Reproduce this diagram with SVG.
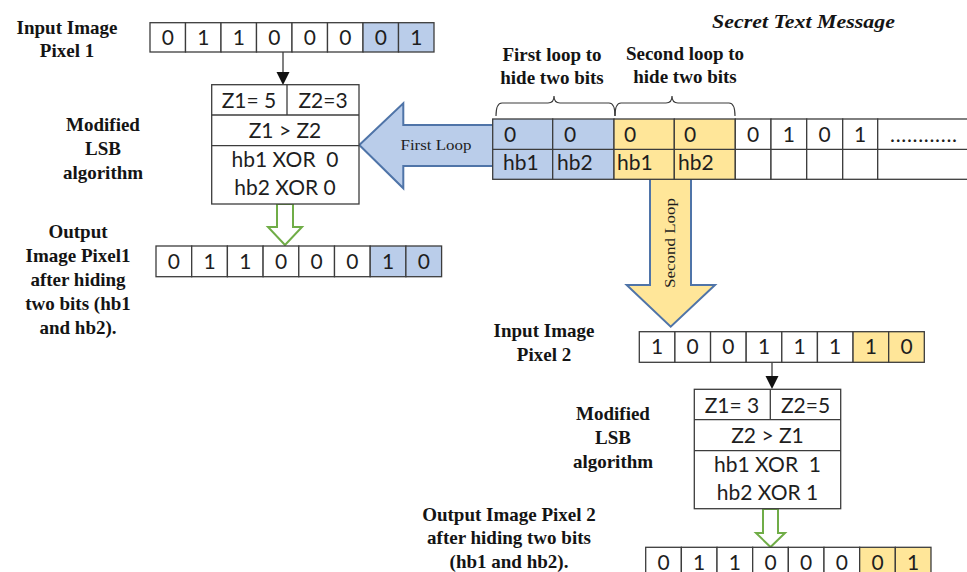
<svg xmlns="http://www.w3.org/2000/svg" width="967" height="572" viewBox="0 0 967 572">
  <style>
    .cell { fill: #ffffff; stroke: #3c3c3c; stroke-width: 1.3; }
    .blue { fill: #bacdea; }
    .gold { fill: #ffe699; }
    .line { stroke: #3c3c3c; stroke-width: 1.3; fill: none; }
    .d { font-family: Lato, "Open Sans", sans-serif; font-size: 21px; fill: #1e1e1e; text-anchor: middle; }
    .dl { font-family: Lato, "Open Sans", sans-serif; font-size: 21px; fill: #1e1e1e; }
    .lbl { font-family: "Liberation Serif", "Times New Roman", serif; font-weight: bold; font-size: 19px; fill: #141414; text-anchor: middle; }
    .arr { font-family: "Liberation Serif", "Times New Roman", serif; font-size: 15px; fill: #1e1e1e; text-anchor: middle; }
    .hollow { fill: #ffffff; stroke: #70ad47; stroke-width: 2; }
    .brace { fill: none; stroke: #3c3c3c; stroke-width: 1.2; }
  </style>

  <!-- Labels -->
  <g id="labels">
    <text class="lbl"><tspan x="67" y="34">Input Image</tspan><tspan x="67" y="57">Pixel 1</tspan></text>
    <text class="lbl"><tspan x="103" y="131">Modified</tspan><tspan x="103" y="155">LSB</tspan><tspan x="103" y="179">algorithm</tspan></text>
    <text class="lbl"><tspan x="78" y="238">Output</tspan><tspan x="78" y="262">Image Pixel1</tspan><tspan x="78" y="286">after hiding</tspan><tspan x="78" y="310">two bits (hb1</tspan><tspan x="78" y="334">and hb2).</tspan></text>
    <text class="lbl" x="712" y="28" style="font-style:italic;text-anchor:start" textLength="183" lengthAdjust="spacingAndGlyphs">Secret Text Message</text>
    <text class="lbl"><tspan x="552" y="61">First loop to</tspan><tspan x="552" y="84">hide two bits</tspan></text>
    <text class="lbl"><tspan x="685" y="60">Second loop to</tspan><tspan x="685" y="83">hide two bits</tspan></text>
    <text class="lbl"><tspan x="544" y="337">Input Image</tspan><tspan x="544" y="361">Pixel 2</tspan></text>
    <text class="lbl"><tspan x="613" y="420">Modified</tspan><tspan x="613" y="444">LSB</tspan><tspan x="613" y="468">algorithm</tspan></text>
    <text class="lbl"><tspan x="509" y="521">Output Image Pixel 2</tspan><tspan x="509" y="544">after hiding two bits</tspan><tspan x="509" y="568">(hb1 and hb2).</tspan></text>
  </g>

  <!-- Connectors: plain arrows, hollow arrows and loop arrows -->
  <g id="connectors">
    <line class="line" x1="283" y1="52" x2="283" y2="73"/>
    <polygon points="276.5,72 289.5,72 283,85" fill="#111"/>
    <line class="line" x1="772" y1="362" x2="772" y2="377"/>
    <polygon points="765.5,376 778.5,376 772,389" fill="#111"/>

    <polygon class="hollow" points="277,204 293,204 293,227 302,227 285,245 268,227 277,227"/>
    <polygon class="hollow" points="763,509 778,509 778,533 785,533 770.5,547 756,533 763,533"/>

    <g id="first-loop">
      <polygon points="359.3,145 403.3,103.3 403.3,125 500,125 500,166 403.3,166 403.3,188.3" fill="#bacdea" stroke="#4f74a8" stroke-width="2" stroke-linejoin="miter"/>
      <text class="arr" x="436" y="150" textLength="71" lengthAdjust="spacingAndGlyphs">First Loop</text>
    </g>
    <g id="second-loop">
      <polygon points="650,178 691,178 691,285 715,285 670.7,326.7 626.7,285 650,285" fill="#ffe699" stroke="#4f74a8" stroke-width="2"/>
      <text class="arr" transform="translate(675,243) rotate(-90)" x="0" y="0" textLength="90" lengthAdjust="spacingAndGlyphs">Second Loop</text>
    </g>
  </g>

  <!-- Input image pixel 1 -->
  <g id="input-pixel-1">
    <rect class="cell" x="150" y="22.7" width="35.5" height="29.3"/>
    <rect class="cell" x="185.5" y="22.7" width="35.5" height="29.3"/>
    <rect class="cell" x="221" y="22.7" width="35.5" height="29.3"/>
    <rect class="cell" x="256.5" y="22.7" width="35.5" height="29.3"/>
    <rect class="cell" x="292" y="22.7" width="35.5" height="29.3"/>
    <rect class="cell" x="327.5" y="22.7" width="35.5" height="29.3"/>
    <rect class="cell blue" x="363" y="22.7" width="35.5" height="29.3"/>
    <rect class="cell blue" x="398.5" y="22.7" width="35.5" height="29.3"/>
    <text class="d" y="45"><tspan x="167.8">0</tspan><tspan x="203.3">1</tspan><tspan x="238.8">1</tspan><tspan x="274.3">0</tspan><tspan x="309.8">0</tspan><tspan x="345.3">0</tspan><tspan x="380.8">0</tspan><tspan x="416.3">1</tspan></text>
  </g>

  <!-- Modified LSB step for pixel 1 -->
  <g id="lsb-1">
    <rect class="cell" x="211.7" y="84.7" width="147.3" height="119.3"/>
    <line class="line" x1="211.7" y1="115" x2="359" y2="115"/>
    <line class="line" x1="211.7" y1="145.7" x2="359" y2="145.7"/>
    <line class="line" x1="287" y1="84.7" x2="287" y2="115"/>
    <text class="d" x="249" y="108">Z1= 5</text>
    <text class="d" x="323" y="108">Z2=3</text>
    <text class="d" x="285" y="138">Z1 &gt; Z2</text>
    <text class="d" x="285" y="167" xml:space="preserve">hb1 XOR  0</text>
    <text class="d" x="285" y="195">hb2 XOR 0</text>
  </g>

  <!-- Output image pixel 1 -->
  <g id="output-pixel-1">
    <rect class="cell" x="156" y="246" width="35.7" height="30.7"/>
    <rect class="cell" x="191.7" y="246" width="35.7" height="30.7"/>
    <rect class="cell" x="227.4" y="246" width="35.7" height="30.7"/>
    <rect class="cell" x="263.1" y="246" width="35.7" height="30.7"/>
    <rect class="cell" x="298.8" y="246" width="35.7" height="30.7"/>
    <rect class="cell" x="334.5" y="246" width="35.7" height="30.7"/>
    <rect class="cell blue" x="370.2" y="246" width="35.7" height="30.7"/>
    <rect class="cell blue" x="405.9" y="246" width="35.7" height="30.7"/>
    <text class="d" y="268.5"><tspan x="173.9">0</tspan><tspan x="209.6">1</tspan><tspan x="245.3">1</tspan><tspan x="281">0</tspan><tspan x="316.7">0</tspan><tspan x="352.4">0</tspan><tspan x="388.1">1</tspan><tspan x="423.8">0</tspan></text>
  </g>

  <!-- Secret text message bits -->
  <g id="secret-message">
    <path class="brace" d="M496,116 Q496,103 502,103 L548,103 Q554,103 554,96 Q554,103 560,103 L609,103 Q615,103 615,116"/>
    <path class="brace" d="M615,116 Q615,103 621,103 L666,103 Q672,103 672,96 Q672,103 678,103 L729,103 Q735,103 735,116"/>
    <rect class="cell blue" x="492.7" y="119" width="60" height="60.3"/>
    <rect class="cell blue" x="552.7" y="119" width="61.3" height="60.3"/>
    <rect class="cell gold" x="614" y="119" width="60.3" height="60.3"/>
    <rect class="cell gold" x="674.3" y="119" width="61" height="60.3"/>
    <rect class="cell" x="735.3" y="119" width="35.7" height="60.3"/>
    <rect class="cell" x="771" y="119" width="35.7" height="60.3"/>
    <rect class="cell" x="806.7" y="119" width="36" height="60.3"/>
    <rect class="cell" x="842.7" y="119" width="35" height="60.3"/>
    <rect class="cell" x="877.7" y="119" width="100" height="60.3"/>
    <line class="line" x1="492.7" y1="149.3" x2="967" y2="149.3"/>
    <text class="dl" y="141.7"><tspan x="504">0</tspan><tspan x="564">0</tspan><tspan x="624">0</tspan><tspan x="684">0</tspan></text>
    <text class="d" y="141.7"><tspan x="753.2">0</tspan><tspan x="788.9">1</tspan><tspan x="824.7">0</tspan><tspan x="860.2">1</tspan></text>
    <text class="dl" x="890" y="141.7" textLength="67" lengthAdjust="spacing">............</text>
    <text class="dl" y="170"><tspan x="503">hb1</tspan><tspan x="557">hb2</tspan><tspan x="617">hb1</tspan><tspan x="678">hb2</tspan></text>
  </g>

  <!-- Input image pixel 2 -->
  <g id="input-pixel-2">
    <rect class="cell" x="639.3" y="331.7" width="35.63" height="30.6"/>
    <rect class="cell" x="674.93" y="331.7" width="35.63" height="30.6"/>
    <rect class="cell" x="710.55" y="331.7" width="35.63" height="30.6"/>
    <rect class="cell" x="746.18" y="331.7" width="35.63" height="30.6"/>
    <rect class="cell" x="781.8" y="331.7" width="35.63" height="30.6"/>
    <rect class="cell" x="817.43" y="331.7" width="35.63" height="30.6"/>
    <rect class="cell gold" x="853.05" y="331.7" width="35.63" height="30.6"/>
    <rect class="cell gold" x="888.68" y="331.7" width="35.63" height="30.6"/>
    <text class="d" y="354"><tspan x="657.1">1</tspan><tspan x="692.7">0</tspan><tspan x="728.4">0</tspan><tspan x="764">1</tspan><tspan x="799.6">1</tspan><tspan x="835.2">1</tspan><tspan x="870.9">1</tspan><tspan x="906.5">0</tspan></text>
  </g>

  <!-- Modified LSB step for pixel 2 -->
  <g id="lsb-2">
    <rect class="cell" x="694.3" y="389.3" width="146.4" height="119.4"/>
    <line class="line" x1="694.3" y1="419.7" x2="840.7" y2="419.7"/>
    <line class="line" x1="694.3" y1="450.7" x2="840.7" y2="450.7"/>
    <line class="line" x1="770.3" y1="389.3" x2="770.3" y2="419.7"/>
    <text class="d" x="732" y="412.5">Z1= 3</text>
    <text class="d" x="805.5" y="412.5">Z2=5</text>
    <text class="d" x="767.5" y="443">Z2 &gt; Z1</text>
    <text class="d" x="767.5" y="472" xml:space="preserve">hb1 XOR  1</text>
    <text class="d" x="767.5" y="500">hb2 XOR 1</text>
  </g>

  <!-- Output image pixel 2 -->
  <g id="output-pixel-2">
    <rect class="cell" x="645.7" y="547.3" width="35.66" height="31"/>
    <rect class="cell" x="681.36" y="547.3" width="35.66" height="31"/>
    <rect class="cell" x="717.02" y="547.3" width="35.66" height="31"/>
    <rect class="cell" x="752.68" y="547.3" width="35.66" height="31"/>
    <rect class="cell" x="788.34" y="547.3" width="35.66" height="31"/>
    <rect class="cell" x="824" y="547.3" width="35.66" height="31"/>
    <rect class="cell gold" x="859.66" y="547.3" width="35.66" height="31"/>
    <rect class="cell gold" x="895.32" y="547.3" width="35.66" height="31"/>
    <text class="d" y="569.5"><tspan x="663.5">0</tspan><tspan x="699.2">1</tspan><tspan x="734.9">1</tspan><tspan x="770.5">0</tspan><tspan x="806.2">0</tspan><tspan x="841.9">0</tspan><tspan x="877.5">0</tspan><tspan x="913.2">1</tspan></text>
  </g>
</svg>
